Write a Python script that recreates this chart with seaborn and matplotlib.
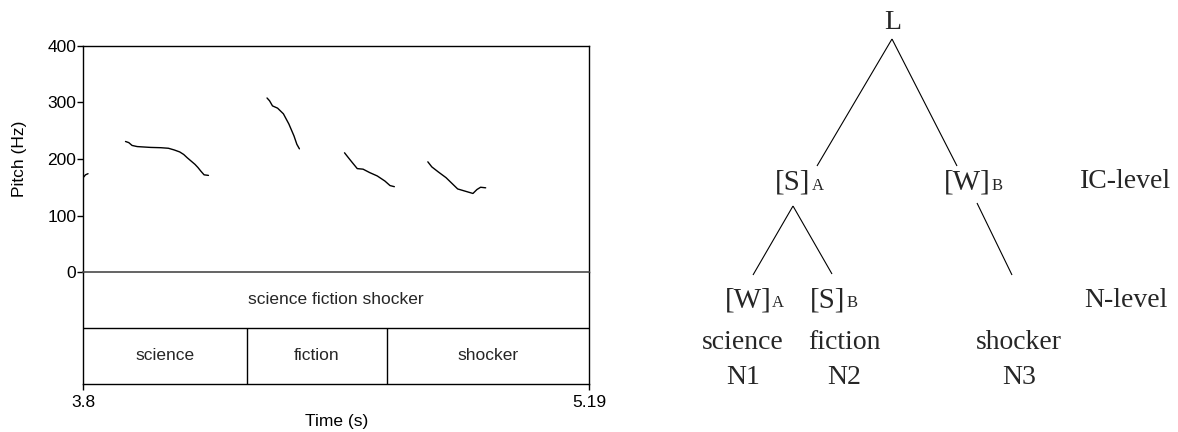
import numpy as np
import pandas as pd
import matplotlib
matplotlib.use("Agg")
import matplotlib.pyplot as plt
import seaborn as sns

# ---- pitch track (time in s, F0 in Hz), one list per voiced stretch ----
seg0_time = [3.801, 3.806, 3.813]
seg0_pitch = [168, 172, 174]

seg1_time = [3.916, 3.925, 3.934, 3.948, 3.960, 3.985, 4.013, 4.034, 4.050,
             4.065, 4.076, 4.086, 4.097, 4.107, 4.115, 4.123, 4.132, 4.144]
seg1_pitch = [231, 229, 224, 222, 221.5, 220.5, 220, 219, 216,
              212.5, 208, 202, 196, 190.5, 185, 178.6, 172, 171]

seg2_time = [4.305, 4.312, 4.320, 4.334, 4.350, 4.365, 4.379, 4.387, 4.394]
seg2_pitch = [308, 303, 294, 290, 280, 262, 241, 226, 218]

seg3_time = [4.518, 4.529, 4.539, 4.553, 4.569, 4.587, 4.608, 4.629, 4.643, 4.655]
seg3_pitch = [211, 202, 194, 183, 182, 176, 170, 161, 153, 151]

seg4_time = [4.747, 4.758, 4.776, 4.797, 4.813, 4.829, 4.850, 4.871, 4.882,
             4.892, 4.906]
seg4_pitch = [195, 186, 177, 167, 157, 147, 143, 139, 146, 150, 149]

# ---- annotation tiers ----
t_start, t_end = 3.8, 5.19
phrase_label = "science fiction shocker"
word_labels = ["science", "fiction", "shocker"]
word_bounds = [3.8, 4.251, 4.634, 5.19]
pitch_ticks = [0, 100, 200, 300, 400]

# ---- prosodic tree labels ----
root_label = "L"
ic_labels = ["[S]", "[W]"]
ic_subs = ["A", "B"]
n_labels = ["[W]", "[S]"]
n_subs = ["A", "B"]
words = ["science", "fiction", "shocker"]
word_ids = ["N1", "N2", "N3"]
level_names = ["IC-level", "N-level"]

segments = [(seg0_time, seg0_pitch), (seg1_time, seg1_pitch),
            (seg2_time, seg2_pitch), (seg3_time, seg3_pitch),
            (seg4_time, seg4_pitch)]
df = pd.concat(
    [pd.DataFrame({"time": t, "pitch": p, "segment": i})
     for i, (t, p) in enumerate(segments)],
    ignore_index=True)

sns.set_theme(style="ticks")
plt.rcParams["font.family"] = ["Liberation Sans", "DejaVu Sans"]

W, H = 1178, 432
fig = plt.figure(figsize=(W / 100, H / 100), dpi=100)


def box(l, t, r, b):
    return [l / W, 1 - b / H, (r - l) / W, (b - t) / H]


SANS = 12.5

# ---------------- pitch panel ----------------
ax_t = fig.add_axes(box(83.3, 272, 589, 384))
ax_p = fig.add_axes(box(83.3, 46, 589, 272), sharex=ax_t)
ax_p.patch.set_visible(False)
ax_t.patch.set_visible(False)

sns.lineplot(data=df, x="time", y="pitch", units="segment", estimator=None,
             color="black", lw=1.0, ax=ax_p, legend=False, sort=False)
ax_p.set_xlim(t_start, t_end)
ax_p.set_ylim(pitch_ticks[0], pitch_ticks[-1])
ax_p.set_yticks(pitch_ticks)
ax_p.set_yticklabels([str(v) for v in pitch_ticks])
ax_p.tick_params(axis="y", length=4, width=1.0, direction="out",
                 labelsize=SANS, pad=1, colors="black")
ax_p.tick_params(axis="x", bottom=False, labelbottom=False)
ax_p.set_xlabel("")
ax_p.set_ylabel("Pitch (Hz)", fontsize=SANS, color="black")
ax_p.yaxis.set_label_coords(-0.111, 0.5)
for side in ["left", "top", "right"]:
    ax_p.spines[side].set_color("black")
    ax_p.spines[side].set_linewidth(1.0)
ax_p.spines["bottom"].set_color("#4a4a4a")
ax_p.spines["bottom"].set_linewidth(1.2)

# ---------------- text tiers ----------------
ax_t.set_ylim(0, 2)
ax_t.axhline(1, color="black", lw=1.0)
ax_t.vlines(word_bounds[1:-1], 0, 1, color="black", lw=1.0)
ax_t.text((t_start + t_end) / 2, 1.5, phrase_label, ha="center", va="center",
          fontsize=SANS)
for lab, a, b in zip(word_labels, word_bounds[:-1], word_bounds[1:]):
    ax_t.text((a + b) / 2, 0.5, lab, ha="center", va="center", fontsize=SANS)
ax_t.set_yticks([])
ax_t.set_xticks([t_start, t_end])
ax_t.set_xticklabels([f"{t_start:g}", f"{t_end:g}"])
ax_t.tick_params(axis="x", length=4, width=1.0, direction="out",
                 labelsize=SANS, pad=4, colors="black")
ax_t.set_xlabel("Time (s)", fontsize=SANS, color="black", labelpad=3)
ax_t.spines["top"].set_visible(False)
for side in ["left", "right", "bottom"]:
    ax_t.spines[side].set_color("black")
    ax_t.spines[side].set_linewidth(1.0)

# ---------------- prosodic tree ----------------
ax_tr = fig.add_axes([600 / W, 0, (W - 600) / W, 1])
ax_tr.set_xlim(600, W)
ax_tr.set_ylim(H, 0)
ax_tr.axis("off")

SERIF = ["Liberation Serif", "DejaVu Serif"]
FS = 20
FS_BR = 21
FS_SUB = 12

# branch end points
edges = [((892, 39), (817, 166)),
         ((892, 39), (957, 166)),
         ((793, 206), (753, 275)),
         ((793, 206), (832, 274)),
         ((977, 203), (1012, 275))]
for (x0, y0), (x1, y1) in edges:
    ax_tr.plot([x0, x1], [y0, y1], color="black", lw=0.8,
               solid_capstyle="butt")

ax_tr.text(893, 29, root_label, ha="center", va="baseline", fontsize=FS,
           family=SERIF)


def bracket(x, y, lab, sub):
    t = ax_tr.text(x, y, lab, ha="center", va="baseline", fontsize=FS_BR,
                   family=SERIF)
    ax_tr.annotate(sub, xy=(1.0, y), xycoords=(t, "data"),
                   xytext=(0.5, 0), textcoords="offset points",
                   ha="left", va="baseline", fontsize=FS_SUB, family=SERIF)


ic_x = [793, 967]
for x, lab, sub in zip(ic_x, ic_labels, ic_subs):
    bracket(x, 190, lab, sub)

n_x = [748, 828]
for x, lab, sub in zip(n_x, n_labels, n_subs):
    bracket(x, 307, lab, sub)

level_y = [188, 307]
for y, name in zip(level_y, level_names):
    ax_tr.text(1126, y, name, ha="center", va="baseline", fontsize=FS,
               family=SERIF)

word_x = [743, 844, 1019]
for x, w, n in zip(word_x, words, word_ids):
    ax_tr.text(x, 349, w, ha="center", va="baseline", fontsize=FS,
               family=SERIF)
    ax_tr.text(x, 384, n, ha="center", va="baseline", fontsize=FS,
               family=SERIF)

fig.savefig("out.png", dpi=100, facecolor="white")
